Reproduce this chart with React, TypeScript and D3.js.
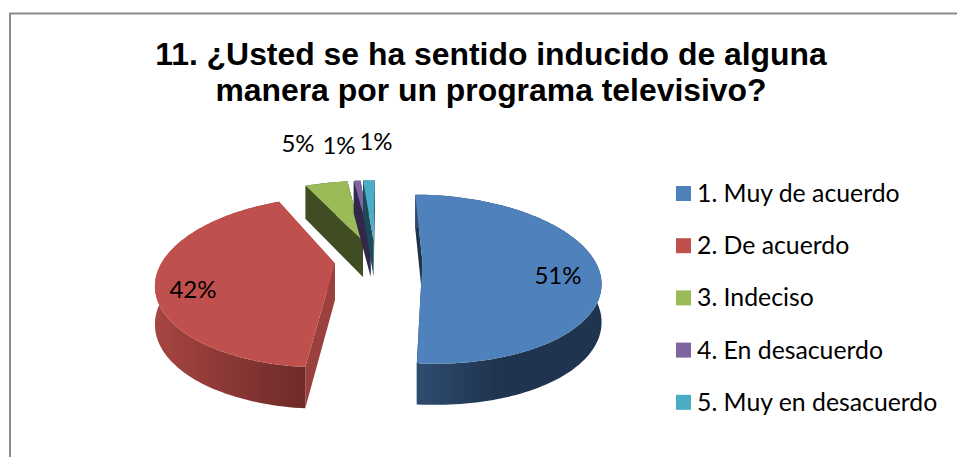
import React from "react";
import * as d3 from "d3";

const categories = ["1. Muy de acuerdo", "2. De acuerdo", "3. Indeciso", "4. En desacuerdo", "5. Muy en desacuerdo"];
const values = [51.2, 41.6, 5.0, 0.8, 1.4];
const valueLabels = ["51%", "42%", "5%", "1%", "1%"];
const explosion = [0.275, 0.235, 0.26, 0.26, 0.26];
const titleLines = ["11. ¿Usted se ha sentido inducido de alguna", "manera por un programa televisivo?"];
const topColors = ["#4F81BD", "#C0504D", "#9BBB59", "#8064A2", "#4BACC6"];
const wallLeft = ["#2F4C70", "#A64541", "#404D23", "#32274A", "#1E4A58"];
const wallRight = ["#1F344E", "#6E2A29", "#404D23", "#32274A", "#1E4A58"];
const sideColors = ["#1F3349", "#9C403D", "#404D23", "#32274A", "#1E4A58"];

// layout
const W = 957, H = 457;
const CX = 375, CY = 260, R = 172, HY = 80.2, K = 0.214;
const DEPTH = 37, DK = 0.1;
const labelPos: [number, number][] = [[558, 284], [193, 298], [298, 152], [339, 154], [376, 150]];

type P = [number, number];
const project = (u: number, v: number, down = false): P => {
  const d = 1 - K * v;
  return [CX + (R * u) / d, CY + (HY * v) / d + (down ? DEPTH / (1 - DK * v) : 0)];
};

const arcs = d3.pie<number>().sort(null).startAngle((0.5 * Math.PI) / 180).endAngle((360.5 * Math.PI) / 180)(values);
const line = d3.line<P>().curve(d3.curveLinear);

const slices = arcs.map((a, i) => {
  const mid = (a.startAngle + a.endAngle) / 2;
  const ou = explosion[i] * Math.sin(mid), ov = -explosion[i] * Math.cos(mid);
  const n = Math.max(4, Math.ceil((a.endAngle - a.startAngle) * 40));
  const angles = d3.range(n + 1).map((k) => a.startAngle + ((a.endAngle - a.startAngle) * k) / n);
  const rim = angles.map((t) => [ou + Math.sin(t), ov - Math.cos(t)] as P);
  const topRim = rim.map(([u, v]) => project(u, v));
  const lowRim = rim.map(([u, v]) => project(u, v, true));
  const apex = project(ou, ov), apexLow = project(ou, ov, true);
  const top = line([apex, ...topRim])! + "Z";
  const outer = line([...topRim, ...lowRim.slice().reverse()])! + "Z";
  const sideA = line([apex, topRim[0], lowRim[0], apexLow])! + "Z";
  const sideB = line([apex, topRim[n], lowRim[n], apexLow])! + "Z";
  return { i, top, outer, sideA, sideB };
});

const drawOrder = [2, 3, 4, 1, 0];

export default function App() {
  return (
    <svg width={W} height={H} viewBox={`0 0 ${W} ${H}`} style={{ position: "fixed", left: 0, top: 0, display: "block", background: "#fff" }}>
      <defs>
        {categories.map((_, i) => (
          <linearGradient key={i} id={`wall${i}`} x1="0" x2="1" y1="0" y2="0">
            <stop offset="0" stopColor={wallLeft[i]} />
            <stop offset={i === 0 ? "0.45" : "1"} stopColor={wallRight[i]} />
            <stop offset="1" stopColor={wallRight[i]} />
          </linearGradient>
        ))}
      </defs>
      <path d={`M10 ${H}V13.5H${W}`} fill="none" stroke="#8C8C8C" strokeWidth={2} />
      <g fontFamily="'Liberation Sans', Arial, sans-serif" fontWeight={700} fontSize={31.9} fill="#000" textAnchor="middle">
        {titleLines.map((t, i) => (
          <text key={i} x={491} y={65 + i * 36}>{t}</text>
        ))}
      </g>
      {drawOrder.map((idx) => {
        const s = slices[idx];
        return (
          <g key={idx}>
            <path d={s.sideB} fill={sideColors[idx]} />
            <path d={s.sideA} fill={sideColors[idx]} />
            <path d={s.outer} fill={`url(#wall${idx})`} />
            <path d={s.top} fill={topColors[idx]} />
          </g>
        );
      })}
      <g fontFamily="Lato, 'Open Sans', sans-serif" fill="#000">
        {valueLabels.map((t, i) => (
          <text key={i} x={labelPos[i][0]} y={labelPos[i][1]} textAnchor="middle" fontSize={24}>{t}</text>
        ))}
        {categories.map((c, i) => (
          <g key={c}>
            <rect x={676} y={186 + i * 52.2} width={15} height={15} fill={topColors[i]} />
            <text x={697} y={202 + i * 52.2} fontSize={24.8}>{c}</text>
          </g>
        ))}
      </g>
    </svg>
  );
}
